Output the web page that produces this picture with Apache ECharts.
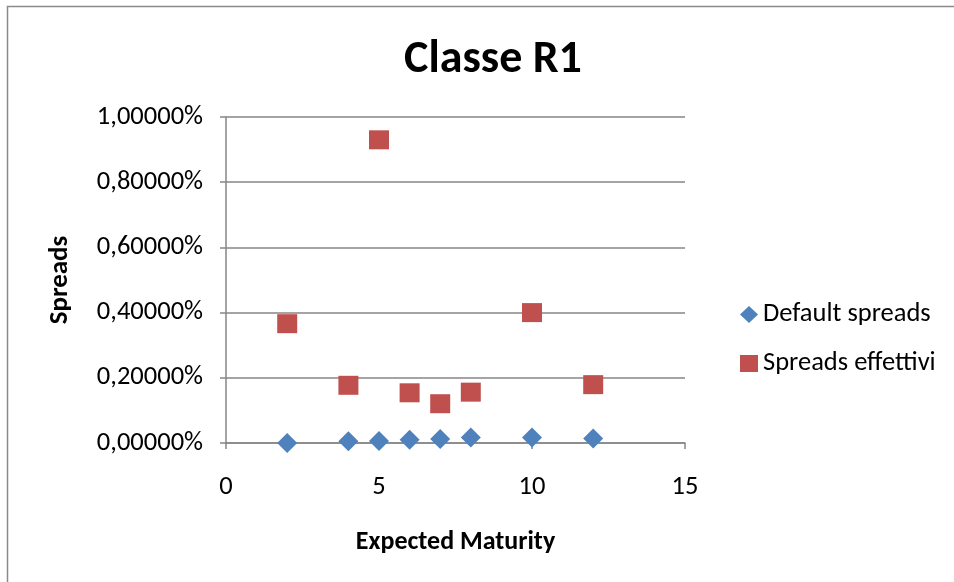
<!DOCTYPE html>
<html><head><meta charset="utf-8">
<script src="https://cdn.jsdelivr.net/npm/echarts@6/dist/echarts.min.js"></script>
<style>html,body{margin:0;padding:0;background:#fff}#c{width:954px;height:582px}</style>
</head><body><div id="c"></div>
<script>
const maturities = [2, 4, 5, 6, 7, 8, 10, 12];
const defaultSpreads = [0.000, 0.005, 0.006, 0.010, 0.012, 0.017, 0.017, 0.014];
const spreadsEffettivi = [0.366, 0.177, 0.930, 0.154, 0.1205, 0.156, 0.400, 0.179];
const seriesNames = ['Default spreads', 'Spreads effettivi'];
const titleText = 'Classe R1';
const xName = 'Expected Maturity';
const yName = 'Spreads';

const FONT = "Carlito, 'Liberation Sans Narrow', 'Open Sans', sans-serif";
const chart = echarts.init(document.getElementById('c'));
chart.setOption({
  animation: false,
  graphic: [{type:'rect', left:5, top:4, shape:{width:1200, height:1200}, style:{fill:'none', stroke:'#8a8a8a', lineWidth:1.5}, z:-1}],
  title: {text: titleText, left: 488, top: 32, textAlign:'center',
    textStyle:{fontFamily:FONT, fontSize:46, fontWeight:'bold', color:'#000'}},
  legend: {orient:'vertical', left: 735, top: 296, itemGap: 22, itemWidth: 18, itemHeight: 17,
    textStyle:{fontFamily:FONT, fontSize:26.5, color:'#000'},
    data: [{name: seriesNames[0], icon:'diamond'}, {name: seriesNames[1], icon:'rect'}]},
  grid: {left: 226, right: 269, top: 117, bottom: 139, containLabel:false},
  xAxis: {type:'value', min:0, max:15, interval:5,
    name: xName, nameLocation:'middle', nameGap: 86,
    nameTextStyle:{fontFamily:FONT, fontSize:26, fontWeight:'bold', color:'#000'},
    axisLine:{show:true, lineStyle:{color:'#868686', width:1.5}},
    axisTick:{show:true, length:6, lineStyle:{color:'#868686', width:1.5}},
    splitLine:{show:false},
    axisLabel:{fontFamily:FONT, fontSize:26.5, color:'#000', margin:31}},
  yAxis: {type:'value', min:0, max:1, interval:0.2,
    name: yName, nameLocation:'middle', nameGap: 152, nameRotate: 90,
    nameTextStyle:{fontFamily:FONT, fontSize:27, fontWeight:'bold', color:'#000'},
    axisLine:{show:true, lineStyle:{color:'#868686', width:1.5}},
    axisTick:{show:true, length:6, lineStyle:{color:'#868686', width:1.5}},
    splitLine:{show:true, lineStyle:{color:'#868686', width:1.5}},
    axisLabel:{fontFamily:FONT, fontSize:26.5, color:'#000', margin:23,
      formatter: v => v.toFixed(5).replace('.', ',') + '%'}},
  series: [
    {name: seriesNames[0], type:'scatter', symbol:'diamond', symbolSize:[20,20],
     itemStyle:{color:'#4F81BD', opacity:1}, data: maturities.map((m,i)=>[m, defaultSpreads[i]])},
    {name: seriesNames[1], type:'scatter', symbol:'rect', symbolSize:[20,19],
     itemStyle:{color:'#C0504D', opacity:1}, data: maturities.map((m,i)=>[m, spreadsEffettivi[i]])}
  ]
});
</script></body></html>
